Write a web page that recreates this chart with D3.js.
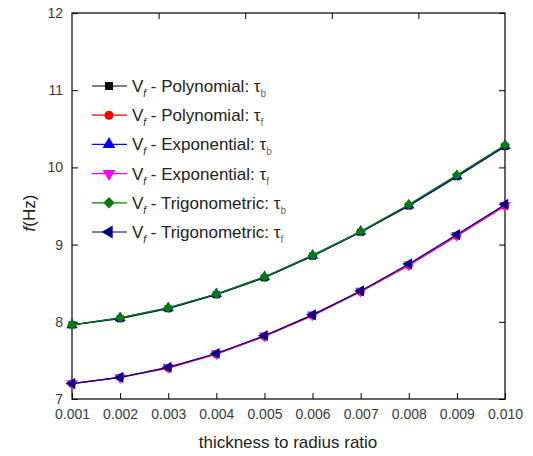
<!DOCTYPE html>
<html>
<head>
<meta charset="utf-8">
<script src="https://cdn.jsdelivr.net/npm/d3@7"></script>
<style>
  body { margin: 0; background: #fff; }
  svg { font-family: "Liberation Sans", Arial, sans-serif; }
</style>
</head>
<body>
<svg></svg>
<script>
const width = 533;
const height = 456;
const margin = {left: 72, right: 28, top: 13, bottom: 57};

// data
const ratios = [0.001, 0.002, 0.003, 0.004, 0.005, 0.006, 0.007, 0.008, 0.009, 0.010];
const polyB  = [7.96, 8.04, 8.17, 8.35, 8.57, 8.85, 9.16, 9.50, 9.88, 10.27];
const polyF  = [7.20, 7.28, 7.40, 7.58, 7.81, 8.08, 8.39, 8.73, 9.11, 9.50];
const expoB  = [7.96, 8.05, 8.18, 8.36, 8.58, 8.86, 9.17, 9.51, 9.89, 10.28];
const expoF  = [7.20, 7.28, 7.41, 7.59, 7.82, 8.09, 8.40, 8.74, 9.12, 9.51];
const trigB  = [7.96, 8.05, 8.18, 8.36, 8.58, 8.86, 9.17, 9.52, 9.90, 10.29];
const trigF  = [7.20, 7.28, 7.41, 7.59, 7.82, 8.09, 8.40, 8.75, 9.13, 9.52];
const xTicks = [0.001, 0.002, 0.003, 0.004, 0.005, 0.006, 0.007, 0.008, 0.009, 0.010];
const yTicks = [7, 8, 9, 10, 11, 12];

const series = [
  {name: "Polynomial", tau: "b", values: polyB, color: "#000000", symbol: d3.symbolSquare, size: 50, rot: 0},
  {name: "Polynomial", tau: "f", values: polyF, color: "#ff0000", symbol: d3.symbolCircle, size: 50, rot: 0},
  {name: "Exponential", tau: "b", values: expoB, color: "#0000ff", symbol: d3.symbolTriangle, size: 55, rot: 0},
  {name: "Exponential", tau: "f", values: expoF, color: "#ff00ff", symbol: d3.symbolTriangle, size: 55, rot: 180},
  {name: "Trigonometric", tau: "b", values: trigB, color: "#008000", symbol: d3.symbolSquare, size: 50, rot: 45},
  {name: "Trigonometric", tau: "f", values: trigF, color: "#000080", symbol: d3.symbolTriangle, size: 55, rot: -90}
];

const svg = d3.select("svg")
  .attr("width", width)
  .attr("height", height);

const x = d3.scaleLinear()
  .domain([0.001, 0.010])
  .range([margin.left, width - margin.right]);

const y = d3.scaleLinear()
  .domain([7, 12])
  .range([height - margin.bottom, margin.top]);

// top axis has its own 5 divisions
const xTop = d3.scaleLinear()
  .domain([0, 1])
  .range([margin.left, width - margin.right]);

const tickColor = "#3a3a3a";

svg.append("g")
  .attr("transform", `translate(0,${height - margin.bottom})`)
  .call(d3.axisBottom(x).tickValues(xTicks).tickFormat(d3.format(".3f")).tickSizeInner(-6).tickSizeOuter(0).tickPadding(10))
  .call(g => g.select(".domain").remove())
  .call(g => g.selectAll("text").attr("fill", tickColor).style("font-size", "14px"));

svg.append("g")
  .attr("transform", `translate(${margin.left},0)`)
  .call(d3.axisLeft(y).tickValues(yTicks).tickFormat(d3.format("d")).tickSizeInner(-6).tickSizeOuter(0).tickPadding(9))
  .call(g => g.select(".domain").remove())
  .call(g => g.selectAll("text").attr("fill", tickColor).style("font-size", "14px"));

svg.append("g")
  .attr("transform", `translate(${width - margin.right},0)`)
  .call(d3.axisRight(y).tickValues(yTicks).tickSizeInner(-6).tickSizeOuter(0).tickFormat(""))
  .call(g => g.select(".domain").remove());

svg.append("g")
  .attr("transform", `translate(0,${margin.top})`)
  .call(d3.axisTop(xTop).tickValues([0.2, 0.4, 0.6, 0.8]).tickSizeInner(-6).tickSizeOuter(0).tickFormat(""))
  .call(g => g.select(".domain").remove());

svg.append("rect")
  .attr("x", margin.left)
  .attr("y", margin.top)
  .attr("width", width - margin.left - margin.right)
  .attr("height", height - margin.top - margin.bottom)
  .attr("fill", "none")
  .attr("stroke", "#000")
  .attr("stroke-width", 1.2);

const line = d3.line()
  .x((d, i) => x(ratios[i]))
  .y(d => y(d));

series.forEach(s => {
  svg.append("path")
    .datum(s.values)
    .attr("d", line)
    .attr("fill", "none")
    .attr("stroke", s.color)
    .attr("stroke-width", 1.2);
  svg.append("g")
    .selectAll("path")
    .data(s.values)
    .enter()
    .append("path")
    .attr("d", d3.symbol().type(s.symbol).size(s.size))
    .attr("transform", (d, i) => `translate(${x(ratios[i])},${y(d)}) rotate(${s.rot})`)
    .attr("fill", s.color);
});

// legend
const legend = svg.append("g");
series.forEach((s, i) => {
  const ly = 86 + i * 29.2;
  legend.append("line")
    .attr("x1", 92).attr("x2", 127)
    .attr("y1", ly).attr("y2", ly)
    .attr("stroke", s.color)
    .attr("stroke-width", 1.2);
  legend.append("path")
    .attr("d", d3.symbol().type(s.symbol).size(s.size * 1.3))
    .attr("transform", `translate(109,${ly}) rotate(${s.rot})`)
    .attr("fill", s.color);
  const t = legend.append("text")
    .attr("x", 132)
    .attr("y", ly + 6)
    .style("font-size", "17px")
    .attr("fill", "#222");
  t.append("tspan").text("V");
  t.append("tspan").attr("dy", 5).style("font-size", "10px").style("font-style", "italic").text("f");
  t.append("tspan").attr("dy", -5).text(` - ${s.name}: \u03c4`);
  t.append("tspan").attr("dy", 5).style("font-size", "10px").attr("fill", "#666").text(s.tau);
});

// axis titles
svg.append("text")
  .attr("x", 288)
  .attr("y", 448)
  .style("font-size", "17px")
  .style("text-anchor", "middle")
  .attr("fill", "#222")
  .text("thickness to radius ratio");

const yt = svg.append("text")
  .attr("transform", "translate(35,213) rotate(-90)")
  .style("font-size", "17px")
  .style("text-anchor", "middle")
  .attr("fill", "#222");
yt.append("tspan").style("font-style", "italic").text("f");
yt.append("tspan").text("(Hz)");
</script>
</body>
</html>
